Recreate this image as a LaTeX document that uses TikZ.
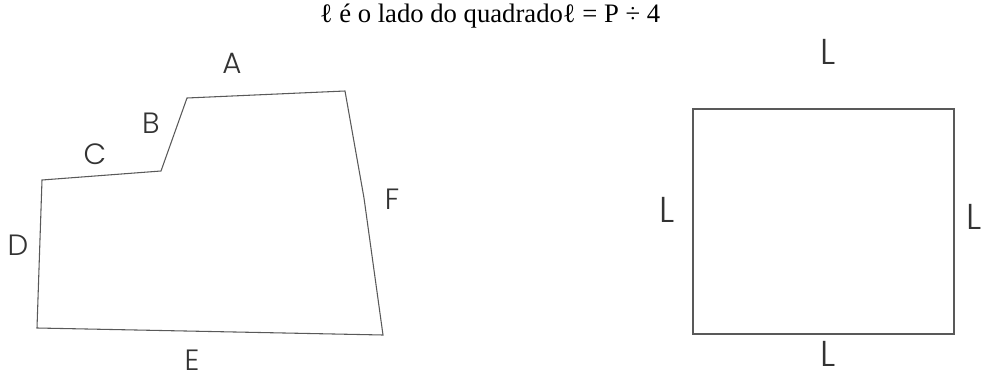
\documentclass[tikz,border=0pt]{standalone}
\usepackage{fontspec}
\setmainfont{Liberation Serif}
\newfontfamily\lblfont[UprightFont=* Light]{Poppins}
\usetikzlibrary{positioning}

\tikzset{
  side/.style={line width=0.8pt,draw=black!65},
  lbl/.style={font=\lblfont\fontsize{22}{22}\selectfont,text=black!80,inner sep=0pt},
  sqlbl/.style={lbl,font=\lblfont\fontsize{27}{27}\selectfont},
}

\begin{document}
\begin{tikzpicture}[x=0.75pt,y=-0.75pt]
\useasboundingbox (0,0) rectangle (983,382);

% title
\node[font=\fontsize{20}{20}\selectfont,anchor=base] (title) at (490,22) {ℓ é o lado do quadradoℓ = P ÷ 4};

% irregular figure
\draw[side] (187,98) -- (345,91) -- (364,198) -- (383,335) -- (37,328) -- (42,180) -- (161,171) -- cycle;
\node[lbl] (a) at (232,63) {A};
\node[lbl] (b) at (151,123) {B};
\node[lbl] (c) at (95,154) {C};
\node[lbl] (d) at (18,245) {D};
\node[lbl] (e) at (192,360) {E};
\node[lbl] (f) at (392,199) {F};

% square
\draw[side] (693,109) rectangle (954,334);
\node[sqlbl] (ltop) at (828,52) {L};
\node[sqlbl] (lleft) at (667,210) {L};
\node[sqlbl,anchor=east] (lright) at (982,217) {L};
\node[sqlbl] (lbot) at (828,354) {L};
\end{tikzpicture}
\end{document}
